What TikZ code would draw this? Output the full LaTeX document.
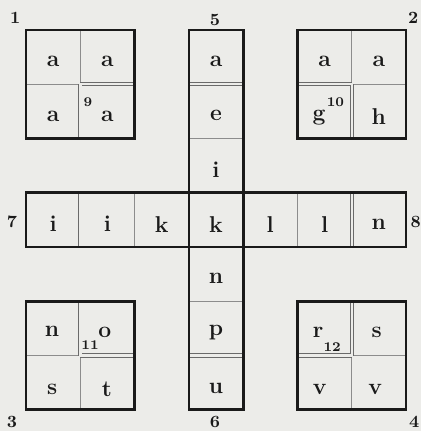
\documentclass[tikz,border=0pt]{standalone}
\definecolor{paper}{HTML}{ECECE9}
\definecolor{ink}{HTML}{1A1A1A}
\begin{document}
\begin{tikzpicture}[
  boxline/.style={line width=1.4pt, draw=ink, line cap=square},
  cellline/.style={line width=0.5pt, draw=ink!50},
  dblline/.style={double=paper, double distance=1.3pt, line width=0.45pt, draw=ink!65},
  letter/.style={font=\large\bfseries, text=ink, inner sep=0pt},
  tag/.style={font=\small\bfseries, text=ink, inner sep=0pt},
  supnum/.style={font=\scriptsize\bfseries, text=ink, inner sep=0pt}
]
  % Paper and page frame
  \fill[paper] (-0.48,0.55) rectangle (7.28,-7.39);
  \useasboundingbox (-0.48,0.55) rectangle (7.28,-7.39);

  % Inner divisions: upper left square
  \draw[cellline] (1,0) -- (1,-1) (0,-1) -- (1,-1);
  \draw[dblline] (1,-1) -- (2,-1) (1,-1) -- (1,-2);
  % Inner divisions: upper right square
  \draw[cellline] (6,0) -- (6,-1) (6,-1) -- (7,-1);
  \draw[dblline] (5,-1) -- (6,-1) (6,-1) -- (6,-2);
  % Inner divisions: lower left square
  \draw[cellline] (1,-6) -- (1,-7) (0,-6) -- (1,-6);
  \draw[dblline] (1,-5) -- (1,-6) (1,-6) -- (2,-6);
  % Inner divisions: lower right square
  \draw[cellline] (6,-6) -- (6,-7) (6,-6) -- (7,-6);
  \draw[dblline] (6,-5) -- (6,-6) (5,-6) -- (6,-6);
  % Inner divisions: column and row
  \draw[dblline] (3,-1) -- (4,-1) (3,-6) -- (4,-6);
  \draw[cellline] (3,-2) -- (4,-2) (3,-5) -- (4,-5);
  \draw[dblline] (1,-3) -- (1,-4) (6,-3) -- (6,-4);
  \draw[cellline] (2,-3) -- (2,-4) (5,-3) -- (5,-4);

  % Heavy outlines
  \draw[boxline] (0,0) rectangle (2,-2);
  \draw[boxline] (5,0) rectangle (7,-2);
  \draw[boxline] (0,-5) rectangle (2,-7);
  \draw[boxline] (5,-5) rectangle (7,-7);
  \draw[boxline] (3,0) rectangle (4,-7);
  \draw[boxline] (0,-3) rectangle (7,-4);

  % Corner and end numbers
  \node[tag] (n1) at (-0.2,0.22) {1};
  \node[tag] (n5) at (3.48,0.18) {5};
  \node[tag] (n2) at (7.13,0.22) {2};
  \node[tag] (n7) at (-0.26,-3.54) {7};
  \node[tag] (n8) at (7.18,-3.54) {8};
  \node[tag] (n3) at (-0.26,-7.22) {3};
  \node[tag] (n6) at (3.48,-7.22) {6};
  \node[tag] (n4) at (7.15,-7.22) {4};

  % Upper left square
  \node[letter] (nw1) at (0.5,-0.58) {a};
  \node[letter] (nw2) at (1.5,-0.58) {a};
  \node[letter] (nw3) at (0.5,-1.6) {a};
  \node[letter] (nw4) at (1.5,-1.6) {a};
  \node[supnum] (m9) at (1.14,-1.34) {9};
  % Upper right square
  \node[letter] (ne1) at (5.5,-0.58) {a};
  \node[letter] (ne2) at (6.5,-0.58) {a};
  \node[letter] (ne3) at (5.4,-1.62) {g};
  \node[letter] (ne4) at (6.5,-1.6) {h};
  \node[supnum] (m10) at (5.7,-1.33) {10};
  % Lower left square
  \node[letter] (sw1) at (0.48,-5.56) {n};
  \node[letter] (sw2) at (1.45,-5.58) {o};
  \node[letter] (sw3) at (0.48,-6.63) {s};
  \node[letter] (sw4) at (1.49,-6.63) {t};
  \node[supnum] (m11) at (1.18,-5.8) {11};
  % Lower right square
  \node[letter] (se1) at (5.38,-5.58) {r};
  \node[letter] (se2) at (6.46,-5.58) {s};
  \node[letter] (se3) at (5.41,-6.63) {v};
  \node[letter] (se4) at (6.43,-6.63) {v};
  \node[supnum] (m12) at (5.64,-5.84) {12};

  % Column
  \node[letter] (col1) at (3.5,-0.58) {a};
  \node[letter] (col2) at (3.5,-1.58) {e};
  \node[letter] (col3) at (3.5,-2.58) {i};
  \node[letter] (col4) at (3.5,-3.58) {k};
  \node[letter] (col5) at (3.5,-4.58) {n};
  \node[letter] (col6) at (3.5,-5.58) {p};
  \node[letter] (col7) at (3.5,-6.6) {u};
  % Row
  \node[letter] (row1) at (0.5,-3.58) {i};
  \node[letter] (row2) at (1.5,-3.58) {i};
  \node[letter] (row3) at (2.5,-3.58) {k};
  \node[letter] (row5) at (4.5,-3.58) {l};
  \node[letter] (row6) at (5.5,-3.58) {l};
  \node[letter] (row7) at (6.5,-3.58) {n};
\end{tikzpicture}
\end{document}
